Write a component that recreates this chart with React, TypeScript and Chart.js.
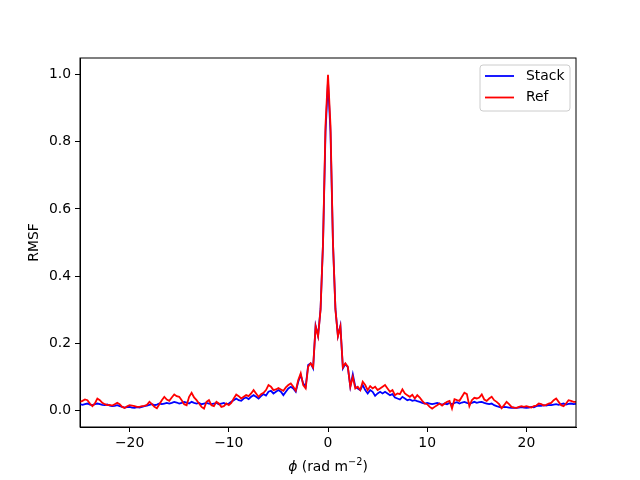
import React, { useEffect, useRef } from "react";
import { Chart, registerables } from "chart.js";

Chart.register(...registerables);

// Faraday depth sampling grid
const PHI_START = -25;
const PHI_STEP = 0.25;

// RMSF of the stacked data (phi = -25 .. 25, step 0.25)
const stackRMSF: number[] = [
  0.018, 0.016, 0.018, 0.02, 0.017, 0.015, 0.018, 0.02, 0.018, 0.016,
  0.015, 0.017, 0.014, 0.012, 0.013, 0.015, 0.012, 0.01, 0.008, 0.009,
  0.01, 0.008, 0.007, 0.009, 0.008, 0.01, 0.012, 0.014, 0.016, 0.018,
  0.015, 0.017, 0.02, 0.018, 0.02, 0.022, 0.02, 0.022, 0.025, 0.023,
  0.02, 0.022, 0.025, 0.023, 0.02, 0.025, 0.022, 0.02, 0.022, 0.018,
  0.02, 0.022, 0.02, 0.018, 0.02, 0.022, 0.018, 0.02, 0.022, 0.018,
  0.02, 0.025, 0.03, 0.035, 0.03, 0.028, 0.035, 0.038, 0.033, 0.04,
  0.045, 0.04, 0.035, 0.042, 0.048, 0.044, 0.055, 0.058, 0.05, 0.055,
  0.06, 0.055, 0.045, 0.055, 0.065, 0.07, 0.065, 0.055, 0.085, 0.105,
  0.08, 0.07, 0.135, 0.14, 0.125, 0.252, 0.222, 0.302, 0.5, 0.83,
  0.98,
  0.83, 0.5, 0.302, 0.222, 0.252, 0.125, 0.138, 0.128, 0.07, 0.107,
  0.07, 0.065, 0.06, 0.075, 0.06, 0.05, 0.06, 0.055, 0.043, 0.05,
  0.055, 0.05, 0.055, 0.05, 0.045, 0.048, 0.038, 0.035, 0.032, 0.04,
  0.035, 0.03, 0.032, 0.028, 0.03, 0.027, 0.025, 0.022, 0.02, 0.022,
  0.02, 0.018, 0.02, 0.022, 0.02, 0.016, 0.02, 0.018, 0.022, 0.018,
  0.022, 0.024, 0.02, 0.023, 0.025, 0.022, 0.02, 0.022, 0.025, 0.022,
  0.024, 0.025, 0.022, 0.02, 0.018, 0.02, 0.015, 0.012, 0.01, 0.008,
  0.01, 0.009, 0.008, 0.007, 0.008, 0.007, 0.008, 0.009, 0.008, 0.007,
  0.008, 0.01, 0.009, 0.012, 0.014, 0.013, 0.015, 0.014, 0.016, 0.015,
  0.017, 0.018, 0.016, 0.018, 0.02, 0.017, 0.019, 0.02, 0.018, 0.019,
];

// RMSF of the reference (phi = -25 .. 25, step 0.25)
const refRMSF: number[] = [
  0.025, 0.028, 0.032, 0.03, 0.02, 0.012, 0.02, 0.035, 0.03, 0.022,
  0.018, 0.015, 0.016, 0.014, 0.018, 0.022, 0.018, 0.01, 0.007, 0.012,
  0.015, 0.014, 0.012, 0.01, 0.01, 0.012, 0.013, 0.016, 0.025, 0.018,
  0.01, 0.006, 0.018, 0.03, 0.04, 0.032, 0.028, 0.038, 0.047, 0.042,
  0.04, 0.03, 0.018, 0.015, 0.04, 0.052, 0.038, 0.03, 0.02, 0.01,
  0.005, 0.025, 0.03, 0.015, 0.012, 0.025, 0.02, 0.01, 0.012, 0.02,
  0.015, 0.022, 0.035, 0.047, 0.042, 0.035, 0.04, 0.045, 0.042, 0.05,
  0.06, 0.05, 0.04, 0.048, 0.052, 0.06, 0.075, 0.07, 0.06, 0.062,
  0.066, 0.062, 0.058, 0.068, 0.075, 0.08, 0.07, 0.058, 0.09, 0.11,
  0.075, 0.065, 0.13, 0.14, 0.128, 0.25, 0.22, 0.3, 0.5, 0.85,
  1.0,
  0.85, 0.5, 0.3, 0.22, 0.25, 0.128, 0.14, 0.13, 0.07, 0.1,
  0.065, 0.07, 0.06, 0.085, 0.075, 0.06, 0.072, 0.065, 0.07, 0.06,
  0.065, 0.07, 0.075, 0.065, 0.055, 0.06, 0.045, 0.05, 0.048, 0.062,
  0.05, 0.045, 0.04, 0.046, 0.035, 0.045, 0.038, 0.028, 0.02, 0.018,
  0.01, 0.005, 0.01, 0.015, 0.02, 0.014, 0.02, 0.025, 0.028, 0.005,
  0.033, 0.03, 0.028, 0.04, 0.052, 0.048, 0.012, 0.03, 0.037, 0.035,
  0.038, 0.047, 0.032, 0.028, 0.035, 0.04, 0.03, 0.025, 0.018, 0.006,
  0.015, 0.025, 0.018, 0.01, 0.008, 0.007, 0.01, 0.012, 0.01, 0.012,
  0.01, 0.008, 0.012, 0.014, 0.02, 0.018, 0.014, 0.016, 0.02, 0.022,
  0.03, 0.035, 0.025, 0.015, 0.012, 0.02, 0.03, 0.028, 0.025, 0.025,
];

const X_TICKS = [-20, -10, 0, 10, 20];
const Y_TICKS = [0.0, 0.2, 0.4, 0.6, 0.8, 1.0];
const SERIES_LABELS = ["Stack", "Ref"];
const SERIES_COLORS = ["#0000ff", "#ff0000"];
const X_TITLE_PARTS = ["\u03d5", " (rad m", "\u22122", ")"];

const FONT = "'DejaVu Sans', sans-serif";
const FS = 13.9;

const toPoints = (vals: number[]) =>
  vals.map((v, i) => ({ x: PHI_START + PHI_STEP * i, y: v }));

const framePlugin = {
  id: "frame",
  afterDatasetsDraw(chart: any) {
    const { ctx, chartArea: a } = chart;
    ctx.save();
    ctx.strokeStyle = "#000";
    ctx.lineWidth = 1;
    ctx.strokeRect(a.left, a.top, a.right - a.left, a.bottom - a.top);
    ctx.restore();
  },
};

const xTitlePlugin = {
  id: "xTitle",
  afterDraw(chart: any) {
    const { ctx, chartArea: a } = chart;
    const cx = (a.left + a.right) / 2;
    const cy = 466;
    const supFS = FS * 0.7;
    const fonts = [
      `italic ${FS}px ${FONT}`,
      `${FS}px ${FONT}`,
      `${supFS}px ${FONT}`,
      `${FS}px ${FONT}`,
    ];
    ctx.save();
    ctx.fillStyle = "#000";
    ctx.textBaseline = "alphabetic";
    ctx.textAlign = "left";
    const widths = X_TITLE_PARTS.map((t, i) => {
      ctx.font = fonts[i];
      return ctx.measureText(t).width;
    });
    const total = widths.reduce((s, w) => s + w, 0);
    let x = cx - total / 2;
    const base = cy + 5;
    X_TITLE_PARTS.forEach((t, i) => {
      ctx.font = fonts[i];
      ctx.fillText(t, x, i === 2 ? base - 6 : base);
      x += widths[i];
    });
    ctx.restore();
  },
};

const legendPlugin = {
  id: "mplLegend",
  afterDraw(chart: any) {
    const { ctx, chartArea: a } = chart;
    const w = 90;
    const h = 46;
    const x0 = a.right - 6 - w;
    const y0 = a.top + 7;
    ctx.save();
    ctx.beginPath();
    const r = 3;
    ctx.moveTo(x0 + r, y0);
    ctx.lineTo(x0 + w - r, y0);
    ctx.quadraticCurveTo(x0 + w, y0, x0 + w, y0 + r);
    ctx.lineTo(x0 + w, y0 + h - r);
    ctx.quadraticCurveTo(x0 + w, y0 + h, x0 + w - r, y0 + h);
    ctx.lineTo(x0 + r, y0 + h);
    ctx.quadraticCurveTo(x0, y0 + h, x0, y0 + h - r);
    ctx.lineTo(x0, y0 + r);
    ctx.quadraticCurveTo(x0, y0, x0 + r, y0);
    ctx.closePath();
    ctx.fillStyle = "rgba(255,255,255,0.8)";
    ctx.fill();
    ctx.strokeStyle = "#cccccc";
    ctx.lineWidth = 1;
    ctx.stroke();
    ctx.font = `${FS}px ${FONT}`;
    ctx.textBaseline = "middle";
    ctx.textAlign = "left";
    SERIES_LABELS.forEach((lab, i) => {
      const yy = y0 + 11 + i * 21.5;
      ctx.strokeStyle = SERIES_COLORS[i];
      ctx.lineWidth = 1.8;
      ctx.beginPath();
      ctx.moveTo(x0 + 5, yy);
      ctx.lineTo(x0 + 34, yy);
      ctx.stroke();
      ctx.fillStyle = "#000";
      ctx.fillText(lab, x0 + 46, yy);
    });
    ctx.restore();
  },
};

export default function App() {
  const ref = useRef<HTMLCanvasElement | null>(null);

  useEffect(() => {
    document.body.style.margin = "0";
    if (!ref.current) return;
    const chart = new Chart(ref.current, {
      type: "line",
      data: {
        datasets: [
          {
            label: SERIES_LABELS[0],
            data: toPoints(stackRMSF),
            borderColor: SERIES_COLORS[0],
            borderWidth: 1.8,
            pointRadius: 0,
            tension: 0,
            fill: false,
            order: 2,
          },
          {
            label: SERIES_LABELS[1],
            data: toPoints(refRMSF),
            borderColor: SERIES_COLORS[1],
            borderWidth: 1.8,
            pointRadius: 0,
            tension: 0,
            fill: false,
            order: 1,
          },
        ],
      },
      options: {
        animation: false,
        responsive: true,
        maintainAspectRatio: false,
        layout: { padding: { top: 58, right: 64, left: 0, bottom: 0 } },
        plugins: {
          legend: { display: false },
          tooltip: { enabled: false },
        },
        scales: {
          x: {
            type: "linear",
            min: -25,
            max: 25,
            afterBuildTicks: (s: any) => {
              s.ticks = X_TICKS.map((v) => ({ value: v }));
            },
            afterFit: (s: any) => {
              s.height = 53;
            },
            grid: {
              display: true,
              drawOnChartArea: false,
              drawTicks: true,
              tickLength: 5,
              tickColor: "#000",
            },
            border: { display: true, color: "#000" },
            ticks: {
              color: "#000",
              font: { family: FONT, size: FS },
              padding: 3,
              maxRotation: 0,
              callback: (v: any) => String(v).replace("-", "\u2212"),
            },
            title: { display: false },
          },
          y: {
            type: "linear",
            min: -0.05,
            max: 1.05,
            afterBuildTicks: (s: any) => {
              s.ticks = Y_TICKS.map((v) => ({ value: v }));
            },
            afterFit: (s: any) => {
              s.width = 80;
            },
            grid: {
              display: true,
              drawOnChartArea: false,
              drawTicks: true,
              tickLength: 5,
              tickColor: "#000",
            },
            border: { display: true, color: "#000" },
            ticks: {
              color: "#000",
              font: { family: FONT, size: FS },
              padding: 4,
              callback: (v: any) => Number(v).toFixed(1),
            },
            title: {
              display: true,
              text: "RMSF",
              color: "#000",
              font: { family: FONT, size: FS },
              padding: { top: 26.5, bottom: 0 },
            },
          },
        },
      },
      plugins: [framePlugin, legendPlugin, xTitlePlugin],
    });
    return () => chart.destroy();
  }, []);

  return (
    <div style={{ width: 640, height: 480, position: "relative" }}>
      <canvas ref={ref} />
    </div>
  );
}
